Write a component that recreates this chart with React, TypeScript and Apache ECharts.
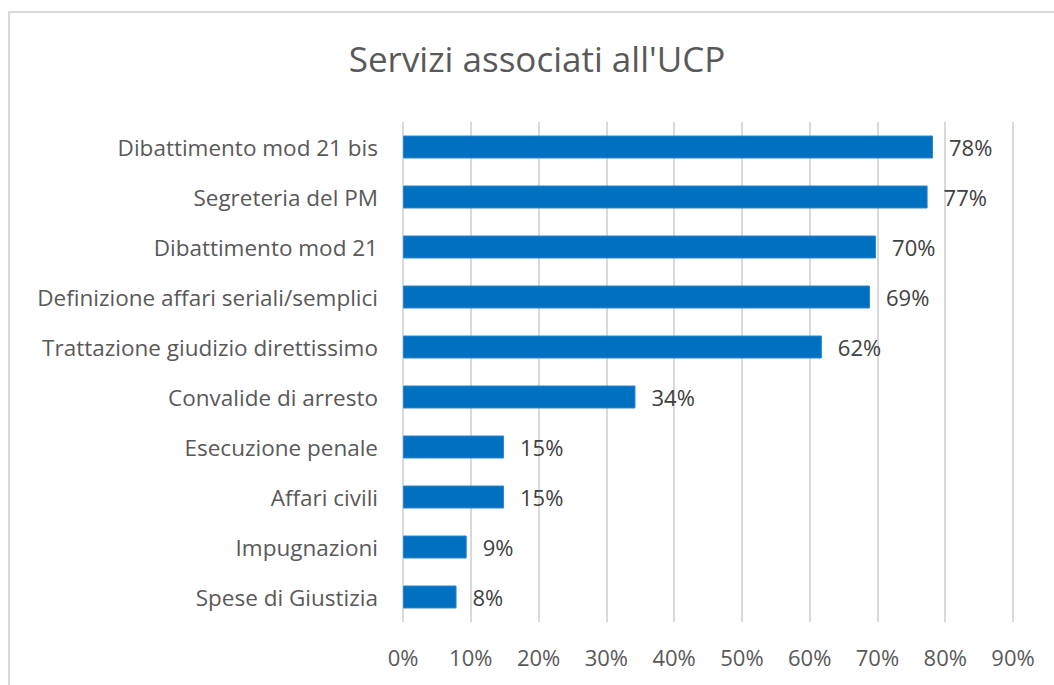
import React, { useEffect, useRef } from "react";
import * as echarts from "echarts";

const titleText = "Servizi associati all'UCP";
const categories = [
  "Dibattimento mod 21 bis",
  "Segreteria del PM",
  "Dibattimento mod 21",
  "Definizione affari seriali/semplici",
  "Trattazione giudizio direttissimo",
  "Convalide di arresto",
  "Esecuzione penale",
  "Affari civili",
  "Impugnazioni",
  "Spese di Giustizia",
];
const values = [0.782, 0.774, 0.698, 0.689, 0.618, 0.343, 0.149, 0.149, 0.094, 0.079];
const xMin = 0;
const xMax = 0.9;
const xStep = 0.1;

const FONT = "'Open Sans', sans-serif";

export default function App() {
  const ref = useRef<HTMLDivElement>(null);
  useEffect(() => {
    if (!ref.current) return;
    const chart = echarts.init(ref.current, null, { renderer: "svg" });
    chart.setOption({
      animation: false,
      backgroundColor: "#ffffff",
      title: {
        text: titleText,
        left: 532,
        textAlign: "center",
        top: 36,
        textStyle: { fontFamily: FONT, fontSize: 35, fontWeight: "normal", color: "#595959" },
      },
      graphic: [
        {
          type: "rect",
          shape: { x: 9, y: 12, width: 1200, height: 800 },
          style: { fill: "none", stroke: "#D9D9D9", lineWidth: 2 },
          silent: true,
        },
      ],
      grid: { left: 403, right: 41, top: 122, bottom: 63, containLabel: false },
      xAxis: {
        type: "value",
        min: xMin,
        max: xMax,
        interval: xStep,
        axisLine: { show: false },
        axisTick: { show: false },
        splitLine: { show: true, lineStyle: { color: "#D9D9D9", width: 2 } },
        axisLabel: {
          margin: 24,
          fontFamily: FONT,
          fontSize: 22,
          color: "#595959",
          formatter: (v: number) => `${Math.round(v * 100)}%`,
        },
      },
      yAxis: {
        type: "category",
        data: categories,
        inverse: true,
        axisLine: { show: false },
        axisTick: { show: false },
        splitLine: { show: false },
        axisLabel: { margin: 25, fontFamily: FONT, fontSize: 22.5, color: "#595959" },
      },
      series: [
        {
          type: "bar",
          data: values,
          barCategoryGap: "54%",
          itemStyle: { color: "#0070C0", borderColor: "#2E86D0", borderWidth: 1 },
          label: {
            show: true,
            position: "right",
            distance: 16,
            fontFamily: FONT,
            fontSize: 22,
            color: "#404040",
            formatter: (p: any) => `${Math.round(p.value * 100)}%`,
          },
        },
      ],
    });
    return () => chart.dispose();
  }, []);
  return <div ref={ref} style={{ width: 1054, height: 685, position: "absolute", left: 0, top: 0 }} />;
}
